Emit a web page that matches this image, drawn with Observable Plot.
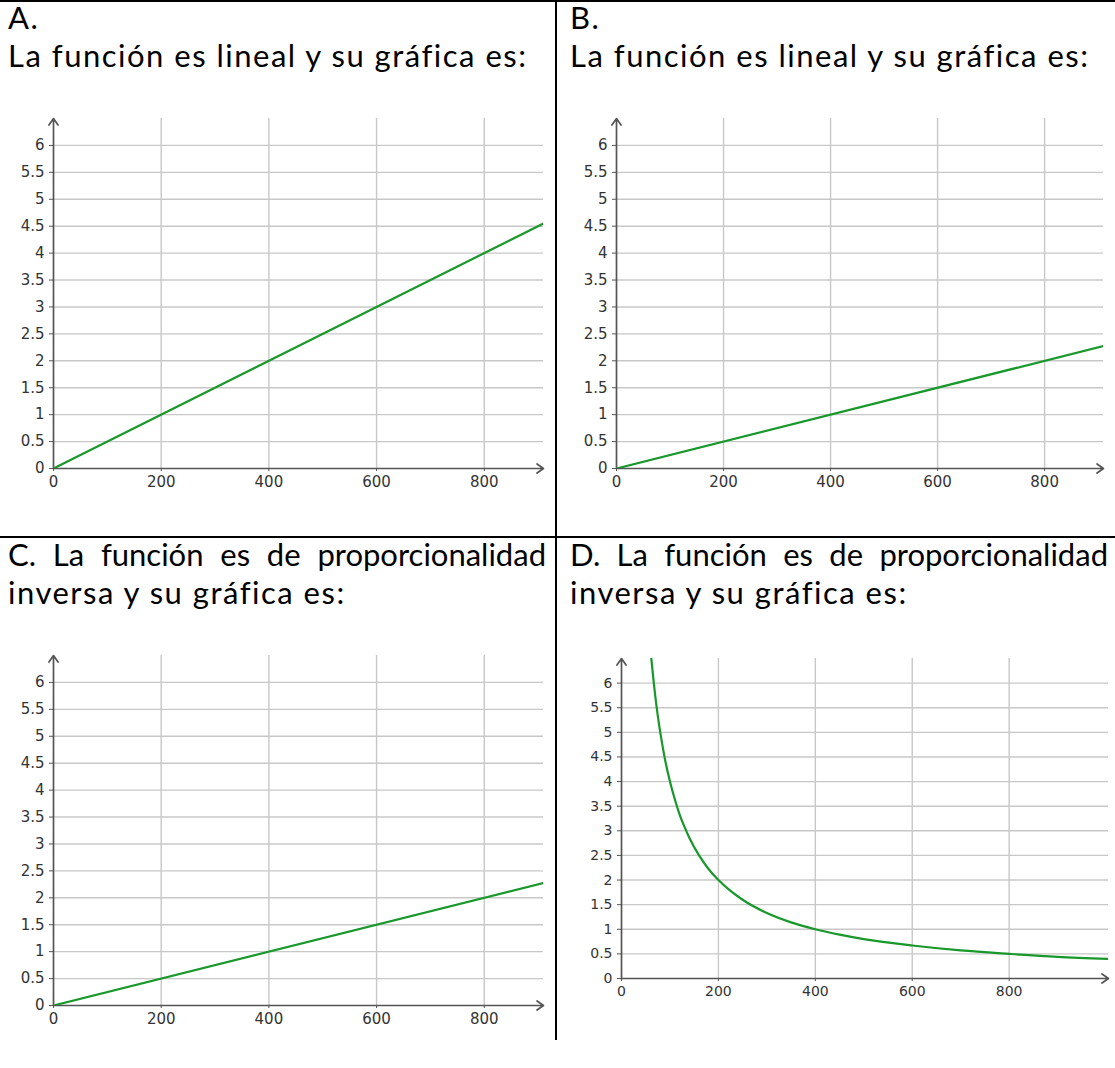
<!DOCTYPE html>
<html>
<head>
<meta charset="utf-8">
<script src="https://cdn.jsdelivr.net/npm/d3@7"></script>
<script src="https://cdn.jsdelivr.net/npm/@observablehq/plot@0.6"></script>
<style>
  html, body { margin: 0; padding: 0; background: #fff; }
  body { width: 1115px; height: 1068px; position: relative; overflow: hidden; }
  .txt { position: absolute; font-family: Lato, "Noto Sans", sans-serif; font-size: 31px; letter-spacing: 1.5px; color: #000; line-height: 40px; white-space: nowrap; }
  .just { white-space: normal; text-align: justify; text-align-last: justify; letter-spacing: 0; }
  .rule { position: absolute; background: #000; }
  .chart { position: absolute; }
  .chart svg { overflow: visible; }
</style>
</head>
<body>
<div class="rule" style="left:0;top:0;width:1115px;height:2px"></div>
<div class="rule" style="left:0;top:536px;width:1115px;height:2px"></div>
<div class="rule" style="left:555px;top:0;width:2px;height:1040px"></div>

<div class="txt" style="left:8px;top:-3px">A.</div>
<div class="txt" style="left:8px;top:35px">La función es lineal y su gráfica es:</div>
<div class="txt" style="left:570px;top:-3px">B.</div>
<div class="txt" style="left:570px;top:35px">La función es lineal y su gráfica es:</div>
<div class="txt just" style="left:8px;top:534px;width:538px">C. La función es de proporcionalidad</div>
<div class="txt" style="left:8px;top:572px">inversa y su gráfica es:</div>
<div class="txt just" style="left:570px;top:534px;width:538px">D. La función es de proporcionalidad</div>
<div class="txt" style="left:570px;top:572px">inversa y su gráfica es:</div>

<div id="chartA" class="chart" style="left:0;top:100px"></div>
<div id="chartB" class="chart" style="left:557px;top:100px"></div>
<div id="chartC" class="chart" style="left:0;top:637px"></div>
<div id="chartD" class="chart" style="left:557px;top:640px"></div>

<script>
// ---- data ----
const xTicks = [0, 200, 400, 600, 800];
const yTicks = [0, 0.5, 1, 1.5, 2, 2.5, 3, 3.5, 4, 4.5, 5, 5.5, 6];
const xDomainLinear = [0, 910];
const xDomainInverse = [0, 1005];
const yDomain = [0, 6.5];

const lineAx = [0, 910];
const lineAy = [0, 4.55];
const lineBx = [0, 910];
const lineBy = [0, 2.275];
const lineCx = [0, 910];
const lineCy = [0, 2.275];
const curveDx = [58, 62, 66, 70, 75, 80, 90, 100, 110, 120, 130, 140, 160, 180, 200, 225, 250, 300, 350, 400, 450, 500, 600, 700, 800, 900, 1005];
const curveDy = [6.9, 6.45, 6.06, 5.71, 5.33, 5.0, 4.44, 4.0, 3.64, 3.33, 3.08, 2.86, 2.5, 2.22, 2.0, 1.78, 1.6, 1.33, 1.14, 1.0, 0.89, 0.8, 0.67, 0.57, 0.5, 0.44, 0.4];

// ---- drawing ----
const GREEN = "#18982a";
function makeChart(el, xs, ys, xDomain, opt) {
  const pts = xs.map((x, i) => ({x, y: ys[i]}));
  const axisLines = [
    {x1: xDomain[0], y1: yDomain[0], x2: xDomain[1], y2: yDomain[0]},
    {x1: xDomain[0], y1: yDomain[0], x2: xDomain[0], y2: yDomain[1]}
  ];
  const chart = Plot.plot({
    width: opt.width, height: opt.height,
    marginLeft: opt.ml, marginRight: opt.mr, marginTop: opt.mt, marginBottom: opt.mb,
    style: {fontFamily: "'DejaVu Sans', sans-serif", fontSize: opt.fs + "px", color: "#333", background: "transparent"},
    x: {domain: xDomain},
    y: {domain: yDomain},
    marks: [
      Plot.gridX(xTicks.filter(d => d > 0), {stroke: "#c8c8c8", strokeOpacity: 1, strokeWidth: 1.4}),
      Plot.gridY(yTicks.filter(d => d > 0), {stroke: "#c8c8c8", strokeOpacity: 1, strokeWidth: 1.4}),
      Plot.axisX({ticks: xTicks, tickSize: 3, tickPadding: 5, tickFormat: d => String(d), fill: "#333", stroke: "#555", fontSize: opt.fs}),
      Plot.axisY({ticks: yTicks, tickSize: 4, tickPadding: 5, tickFormat: d => String(d), fill: "#333", stroke: "#555", fontSize: opt.fs}),
      Plot.arrow(axisLines, {x1: "x1", y1: "y1", x2: "x2", y2: "y2", stroke: "#555", strokeWidth: 1.7, headLength: 7, headAngle: 70}),
      Plot.line(pts, {x: "x", y: "y", stroke: GREEN, strokeWidth: 2.2, clip: true, curve: opt.curve || "linear"})
    ]
  });
  document.getElementById(el).appendChild(chart);
}

makeChart("chartA", lineAx, lineAy, xDomainLinear, {width: 556, height: 400, ml: 53, mr: 13, mt: 18, mb: 32, fs: 15});
makeChart("chartB", lineBx, lineBy, xDomainLinear, {width: 558, height: 400, ml: 59, mr: 12, mt: 18, mb: 32, fs: 15});
makeChart("chartC", lineCx, lineCy, xDomainLinear, {width: 556, height: 400, ml: 53, mr: 13, mt: 18, mb: 32, fs: 15});
makeChart("chartD", curveDx, curveDy, xDomainInverse, {width: 558, height: 370, ml: 64, mr: 7, mt: 18, mb: 32, fs: 14, curve: "monotone-x"});
</script>
</body>
</html>
